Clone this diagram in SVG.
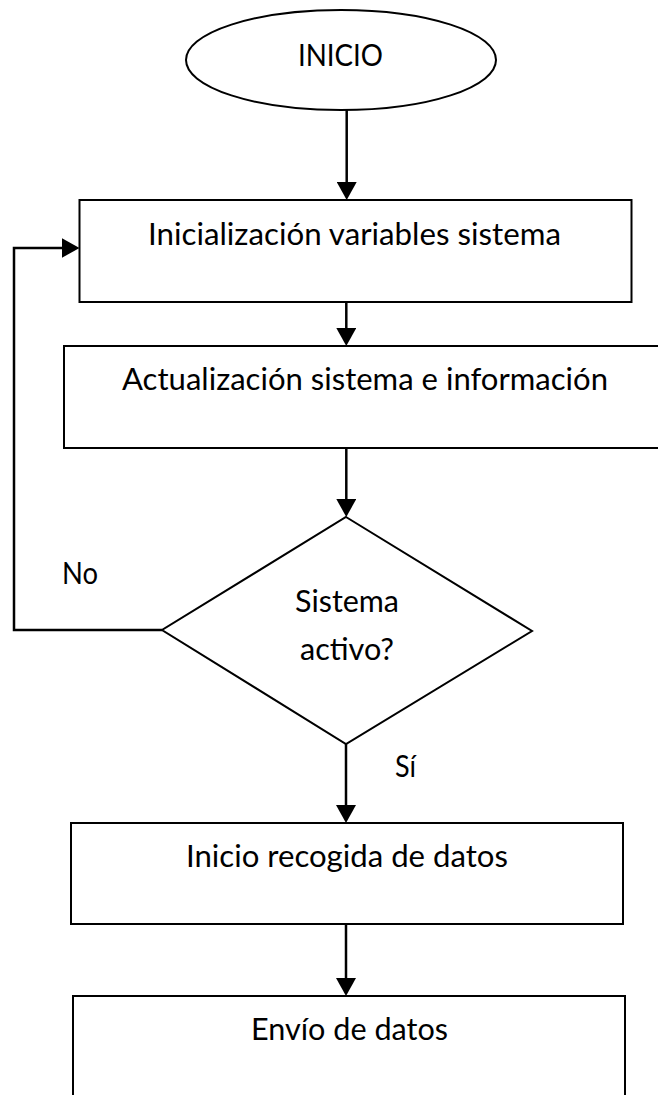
<svg xmlns="http://www.w3.org/2000/svg" width="658" height="1095" viewBox="0 0 658 1095">
  <style>
    .shape { fill: #ffffff; stroke: #000000; stroke-width: 2; }
    .conn { fill: none; stroke: #000000; stroke-width: 2.5; }
    .lbl { font-family: "Lato", "Open Sans", "Liberation Sans", sans-serif; font-size: 30px; fill: #000000; }
  </style>
  <defs>
    <marker id="arrow" viewBox="0 0 18 20" refX="10" refY="10" markerWidth="18" markerHeight="20" markerUnits="userSpaceOnUse" orient="auto">
      <path d="M0,0 L18,10 L0,20 Z" fill="#000000"/>
    </marker>
  </defs>
  <rect width="658" height="1095" fill="#ffffff"/>

  <g id="connectors">
    <line class="conn" x1="346.7" y1="110" x2="346.7" y2="192" marker-end="url(#arrow)"/>
    <line class="conn" x1="346.3" y1="294" x2="346.3" y2="338" marker-end="url(#arrow)"/>
    <line class="conn" x1="346.3" y1="440" x2="346.3" y2="509" marker-end="url(#arrow)"/>
    <line class="conn" x1="346" y1="744" x2="346" y2="815" marker-end="url(#arrow)"/>
    <line class="conn" x1="346" y1="913" x2="346" y2="988" marker-end="url(#arrow)"/>
    <polyline class="conn" points="162,630 14,630 14,248 71.5,248" marker-end="url(#arrow)"/>
    <text class="lbl" x="62" y="584" textLength="36" lengthAdjust="spacingAndGlyphs">No</text>
    <text class="lbl" x="395" y="777" textLength="21" lengthAdjust="spacingAndGlyphs">Sí</text>
  </g>

  <g id="inicio">
    <ellipse class="shape" cx="341" cy="60" rx="155" ry="50"/>
    <text class="lbl" x="298" y="65.5" textLength="85" lengthAdjust="spacingAndGlyphs">INICIO</text>
  </g>

  <g id="inicializacion">
    <rect class="shape" x="79.5" y="200" width="552" height="102"/>
    <text class="lbl" x="148" y="245" textLength="413" lengthAdjust="spacingAndGlyphs">Inicialización variables sistema</text>
  </g>

  <g id="actualizacion">
    <rect class="shape" x="64" y="346" width="620" height="102"/>
    <text class="lbl" x="122" y="389.5" textLength="486" lengthAdjust="spacingAndGlyphs">Actualización sistema e información</text>
  </g>

  <g id="decision">
    <polygon class="shape" points="346,517 532,631 346,744 162,630"/>
    <text class="lbl" x="295" y="612" textLength="104" lengthAdjust="spacingAndGlyphs">Sistema</text>
    <text class="lbl" x="300" y="660" textLength="94" lengthAdjust="spacingAndGlyphs">activo?</text>
  </g>

  <g id="recogida">
    <rect class="shape" x="71" y="823" width="552" height="101"/>
    <text class="lbl" x="186" y="867" textLength="322" lengthAdjust="spacingAndGlyphs">Inicio recogida de datos</text>
  </g>

  <g id="envio">
    <rect class="shape" x="73" y="996" width="552" height="120"/>
    <text class="lbl" x="251" y="1040" textLength="197" lengthAdjust="spacingAndGlyphs">Envío de datos</text>
  </g>
</svg>
